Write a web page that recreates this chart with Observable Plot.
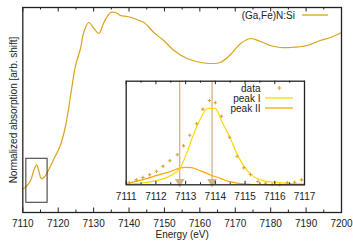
<!DOCTYPE html>
<html><head><meta charset="utf-8">
<script src="https://cdn.jsdelivr.net/npm/d3@7"></script>
<script src="https://cdn.jsdelivr.net/npm/@observablehq/plot@0.6"></script>
<style>
html,body{margin:0;padding:0;background:#fff;}
#wrap{position:relative;width:353px;height:242px;overflow:hidden;font-family:"Liberation Sans",Arial,sans-serif;}
</style></head><body><div id="wrap"></div>
<script>
// ---------- main spectrum ----------
const mainEnergy = [7110.0,7111.0,7112.2,7113.2,7113.9,7114.5,7115.2,7116.0,7116.9,7118.8,7120.6,7122.1,7123.5,7124.9,7126.3,7127.2,7128.6,7130.1,7131.5,7132.9,7134.8,7136.2,7137.6,7139.5,7141.4,7144.2,7147.0,7149.8,7152.7,7156.4,7160.2,7163.0,7165.8,7168.7,7171.5,7174.3,7177.1,7179.9,7182.7,7185.6,7190.3,7194.0,7196.9,7200.0];
const mainAbs = [0.235,0.26,0.32,0.43,0.477,0.42,0.34,0.35,0.40,0.537,0.67,0.87,1.17,1.47,1.64,1.80,1.90,1.84,1.79,1.90,2.00,2.00,1.97,1.96,1.94,1.90,1.80,1.72,1.62,1.54,1.50,1.49,1.50,1.58,1.69,1.74,1.71,1.67,1.65,1.65,1.67,1.72,1.75,1.80];
const mainTicks = [7110,7120,7130,7140,7150,7160,7170,7180,7190,7200];
const mainMinorTicks = [7115,7125,7135,7145,7155,7165,7175,7185,7195];
const seriesName = "(Ga,Fe)N:Si";
// zoom box region (energy and absorption)
const boxE = [7111, 7117];
const boxA = [0.097, 0.537];

// ---------- inset: pre-edge fit ----------
const dataE = [7111.11,7111.34,7111.56,7111.79,7112.02,7112.24,7112.47,7112.72,7112.93,7113.14,7113.37,7113.58,7113.80,7114.00,7114.21,7114.48,7114.73,7114.96,7115.18,7115.43,7115.69,7115.91,7116.17,7116.42,7116.67,7116.90];
const dataY = [0.019,0.048,0.070,0.097,0.131,0.180,0.232,0.290,0.376,0.479,0.589,0.730,0.814,0.792,0.662,0.459,0.276,0.164,0.099,0.032,0.015,0.003,0.0,0.019,0.025,0.048];
const peak1E = [7111.0,7111.6,7112.15,7112.5,7112.83,7113.05,7113.27,7113.5,7113.72,7113.85,7114.0,7114.23,7114.51,7114.73,7114.96,7115.18,7115.52,7115.97,7116.42,7117.0];
const peak1Y = [0.005,0.02,0.05,0.09,0.17,0.315,0.49,0.637,0.734,0.74,0.735,0.604,0.444,0.299,0.18,0.106,0.048,0.025,0.015,0.01];
const peak2E = [7111.0,7111.5,7112.0,7112.5,7112.83,7113.0,7113.2,7113.5,7113.84,7114.17,7114.45,7114.85,7115.3,7116.0,7117.0];
const peak2Y = [0.01,0.045,0.088,0.13,0.163,0.168,0.165,0.135,0.095,0.062,0.033,0.012,0.003,0,0];
const peakCenters = [7112.8, 7113.89];
const insetTicks = [7111,7112,7113,7114,7115,7116,7117];
const insetMinorTicks = [7111.5,7112.5,7113.5,7114.5,7115.5,7116.5];
const legendLabels = ["data","peak I","peak II"];

const C_MAIN = "#dba21f", C_DATA = "#d9a52a", C_P1 = "#ffd800", C_P2 = "#ffa600", C_TAN = "#d2b48c";
const FONT = "'Liberation Sans', Arial, sans-serif";

const mainRows = mainEnergy.map((e,i)=>({e, a: mainAbs[i]}));
const W = 353, H = 242, mL = 22.3, mR = 12, mT = 7, mB = 30;
const fh = H - mT - mB;

const main = Plot.plot({
  width: W, height: H,
  marginLeft: mL, marginRight: mR, marginTop: mT, marginBottom: mB,
  style: {fontFamily: FONT, fontSize: "10px", color: "#222", background: "transparent"},
  x: {domain: [7110, 7200]},
  y: {domain: [0, 2.05], axis: null},
  marks: [
    Plot.line(mainRows, {x: "e", y: "a", stroke: C_MAIN, strokeWidth: 1.2, curve: "catmull-rom"}),
    Plot.rect([{x1: boxE[0], x2: boxE[1], y1: boxA[0], y2: boxA[1]}], {x1:"x1", x2:"x2", y1:"y1", y2:"y2", fill: "none", stroke: "#444", strokeWidth: 1.1}),
    Plot.tickX(mainTicks, {x: d=>d, insetTop: fh - 4.5, stroke: "#222"}),
    Plot.tickX(mainTicks, {x: d=>d, insetBottom: fh - 4.5, stroke: "#222"}),
    Plot.tickX(mainMinorTicks, {x: d=>d, insetTop: fh - 2.5, stroke: "#222"}),
    Plot.tickX(mainMinorTicks, {x: d=>d, insetBottom: fh - 2.5, stroke: "#222"}),
    Plot.axisX({ticks: mainTicks, tickSize: 0, tickPadding: 7, tickFormat: "d", label: null, fontSize: 10}),
    Plot.text(["Energy (eV)"], {frameAnchor: "bottom", dy: 25, fontSize: 10, fill: "#222"}),
    Plot.text(["Normalized absorption [arb. shift]"], {frameAnchor: "left", textAnchor: "middle", rotate: -90, dx: -9.5, fontSize: 10, fill: "#222"}),
    Plot.frame({stroke: "#222", strokeWidth: 1.3})
  ]
});
main.style.position = "absolute"; main.style.left = "0px"; main.style.top = "0px";
document.getElementById("wrap").appendChild(main);

// inset
const IW = 200, IH = 130, iL = 15.7, iR = 6, iT = 5.7, iB = 20.7;
const ifh = IH - iT - iB;
const dataRows = dataE.map((e,i)=>({e, y: dataY[i]}));
const p1Rows = peak1E.map((e,i)=>({e, y: peak1Y[i]}));
const p2Rows = peak2E.map((e,i)=>({e, y: peak2Y[i]}));
const inset = Plot.plot({
  width: IW, height: IH,
  marginLeft: iL, marginRight: iR, marginTop: iT, marginBottom: iB,
  style: {fontFamily: FONT, fontSize: "10px", color: "#222", background: "transparent", overflow: "visible"},
  x: {domain: [7111, 7117]},
  y: {domain: [0, 1], axis: null},
  marks: [
    Plot.frame({fill: "white", stroke: "none"}),
    Plot.ruleX(peakCenters, {x: d=>d, stroke: C_TAN, strokeWidth: 1.3}),
    Plot.dot(peakCenters, {x: d=>d, y: ()=>0, symbol: "triangle", rotate: 180, r: 3.6, fill: C_TAN, stroke: "none", dy: -3}),
    Plot.line(p2Rows, {x: "e", y: "y", stroke: C_P2, strokeWidth: 1.2, curve: "monotone-x"}),
    Plot.line(p1Rows, {x: "e", y: "y", stroke: C_P1, strokeWidth: 1.2, curve: "monotone-x"}),
    Plot.dot(dataRows, {x: "e", y: "y", symbol: "plus", r: 1.2, stroke: C_DATA, strokeWidth: 1.1}),
    Plot.tickX(insetTicks, {x: d=>d, insetTop: ifh - 3.5, stroke: "#222"}),
    Plot.tickX(insetTicks, {x: d=>d, insetBottom: ifh - 3.5, stroke: "#222"}),
    Plot.tickX(insetMinorTicks, {x: d=>d, insetTop: ifh - 2, stroke: "#222"}),
    Plot.tickX(insetMinorTicks, {x: d=>d, insetBottom: ifh - 2, stroke: "#222"}),
    Plot.axisX({ticks: insetTicks, tickSize: 0, tickPadding: 8, tickFormat: "d", label: null, fontSize: 10}),
    Plot.frame({stroke: "#222", strokeWidth: 1.3})
  ]
});
inset.style.position = "absolute"; inset.style.left = "110px"; inset.style.top = "75px";
document.getElementById("wrap").appendChild(inset);

// legends (overlay)
const ov = d3.select("#wrap").append("svg")
  .attr("width", W).attr("height", H)
  .style("position", "absolute").style("left", "0px").style("top", "0px")
  .style("font-family", FONT).style("font-size", "10px");
ov.append("text").attr("x", 295).attr("y", 15).attr("dy", "0.35em").attr("text-anchor", "end").attr("fill", "#222").text(seriesName);
ov.append("line").attr("x1", 302).attr("x2", 328).attr("y1", 15).attr("y2", 15).attr("stroke", C_MAIN).attr("stroke-width", 1.3);

const ly = [88, 98, 108];
legendLabels.forEach((t, i) => {
  ov.append("text").attr("x", 260.5).attr("y", ly[i]).attr("dy", "0.35em").attr("text-anchor", "end").attr("fill", "#222").text(t);
});
ov.append("path").attr("d", d3.symbol(d3.symbolPlus, 6)()).attr("transform", `translate(279.3,${ly[0]})`).attr("fill", "none").attr("stroke", C_DATA).attr("stroke-width", 1.1);
ov.append("line").attr("x1", 265).attr("x2", 293).attr("y1", ly[1]).attr("y2", ly[1]).attr("stroke", C_P1).attr("stroke-width", 1.3);
ov.append("line").attr("x1", 265).attr("x2", 293).attr("y1", ly[2]).attr("y2", ly[2]).attr("stroke", C_P2).attr("stroke-width", 1.3);
</script></body></html>
